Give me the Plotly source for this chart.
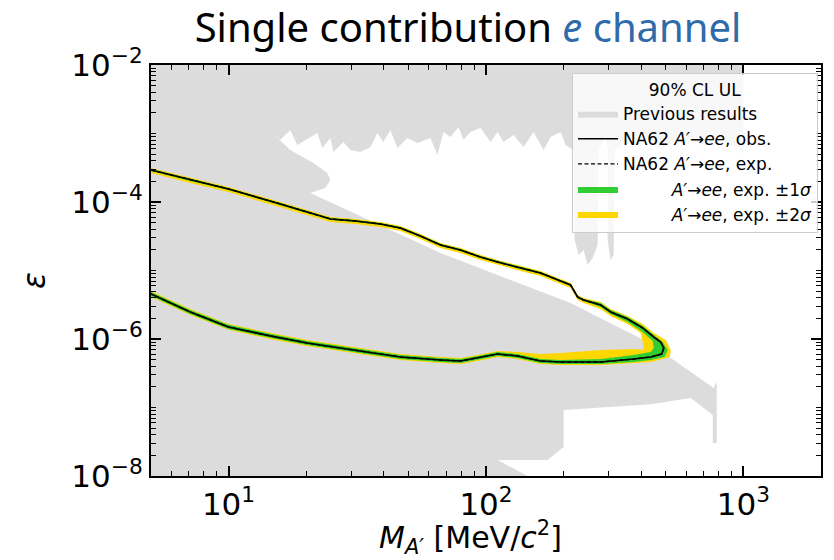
import math
import plotly.graph_objects as go

# ---------------- data ----------------
# Upper branch of the NA62 A'->ee exclusion contour
mass_up = [5.0, 7.1, 10.0, 15.9, 24.9, 31.1, 38.9, 46.5, 55.6, 66.6, 79.6, 95.2, 110.8,
           136.2, 162.9, 186.3, 203.8, 213.1, 226.9, 239.4, 278.7, 304.8, 354.9, 406.0, 448.1]
eps_up_obs = [2.93e-4, 2.10e-4, 1.55e-4, 9.35e-5, 5.65e-5, 5.28e-5, 4.77e-5, 4.17e-5, 3.19e-5,
              2.36e-5, 1.99e-5, 1.57e-5, 1.33e-5, 1.09e-5, 9.20e-6, 7.51e-6, 6.57e-6, 6.14e-6,
              4.10e-6, 3.71e-6, 3.14e-6, 2.48e-6, 1.96e-6, 1.45e-6, 1.07e-6]
eps_up_exp = [2.93e-4, 2.10e-4, 1.55e-4, 9.35e-5, 5.65e-5, 5.28e-5, 4.77e-5, 4.17e-5, 3.19e-5,
              2.36e-5, 1.99e-5, 1.57e-5, 1.33e-5, 1.09e-5, 9.20e-6, 7.51e-6, 6.57e-6, 6.14e-6,
              4.10e-6, 3.71e-6, 3.14e-6, 2.48e-6, 1.96e-6, 1.45e-6, 1.07e-6]

# Tip of the contour (high-mass end)
mass_tip = [477.0, 490.1, 481.2]
eps_tip_obs = [9.04e-7, 7.39e-7, 6.04e-7]
eps_tip_exp = [9.04e-7, 7.39e-7, 6.04e-7]

# Lower branch of the contour
mass_lo = [5.0, 7.1, 10.0, 14.5, 20.2, 27.2, 36.5, 46.5, 66.6, 79.6, 92.7, 110.8, 132.6,
           162.9, 194.9, 278.7, 374.6, 436.1]
eps_lo_obs = [4.54e-6, 2.48e-6, 1.50e-6, 1.11e-6, 8.74e-7, 7.39e-7, 6.25e-7, 5.46e-7, 4.94e-7,
              4.77e-7, 5.28e-7, 6.04e-7, 5.65e-7, 4.77e-7, 4.62e-7, 4.62e-7, 5.10e-7, 5.46e-7]
eps_lo_exp = [4.54e-6, 2.48e-6, 1.50e-6, 1.11e-6, 8.74e-7, 7.39e-7, 6.25e-7, 5.46e-7, 4.94e-7,
              4.77e-7, 5.28e-7, 6.04e-7, 5.65e-7, 4.77e-7, 4.62e-7, 4.62e-7, 5.10e-7, 5.46e-7]

# Expected +-1 sigma band edges
eps_up_1s_out = [3.03e-4, 2.17e-4, 1.60e-4, 9.67e-5, 5.84e-5, 5.46e-5, 4.93e-5, 4.31e-5, 3.30e-5,
                 2.44e-5, 2.06e-5, 1.62e-5, 1.38e-5, 1.13e-5, 9.51e-6, 7.77e-6, 6.79e-6, 6.35e-6,
                 4.24e-6, 3.84e-6, 3.36e-6, 2.65e-6, 2.10e-6, 1.55e-6, 1.14e-6]
mass_tip_1s_out = [485.7, 507.9, 494.0]
eps_tip_1s_out = [9.04e-7, 6.91e-7, 5.46e-7]
eps_lo_1s_out = [4.24e-6, 2.32e-6, 1.40e-6, 1.04e-6, 8.17e-7, 6.91e-7, 5.84e-7, 5.10e-7, 4.62e-7,
                 4.46e-7, 4.93e-7, 5.64e-7, 5.28e-7, 4.46e-7, 4.32e-7, 4.32e-7, 4.61e-7, 4.94e-7]
eps_up_1s_in = [2.83e-4, 2.03e-4, 1.50e-4, 9.04e-5, 5.46e-5, 5.11e-5, 4.61e-5, 4.03e-5, 3.09e-5,
                2.28e-5, 1.92e-5, 1.52e-5, 1.29e-5, 1.05e-5, 8.90e-6, 7.26e-6, 6.35e-6, 5.94e-6,
                3.97e-6, 3.59e-6, 2.93e-6, 2.32e-6, 1.77e-6, 1.27e-6]
mass_tip_1s_in = [444.0, 448.1]
eps_tip_1s_in = [9.35e-7, 7.39e-7]
eps_lo_1s_in = [4.86e-6, 2.65e-6, 1.61e-6, 1.19e-6, 9.35e-7, 7.91e-7, 6.69e-7, 5.84e-7, 5.29e-7,
                5.10e-7, 5.65e-7, 6.46e-7, 6.05e-7, 5.10e-7, 4.94e-7, 5.11e-7, 5.83e-7, 6.46e-7]

# Expected +-2 sigma band edges
eps_up_2s_out = [3.14e-4, 2.25e-4, 1.66e-4, 1.00e-4, 6.05e-5, 5.65e-5, 5.10e-5, 4.46e-5, 3.41e-5,
                 2.53e-5, 2.13e-5, 1.68e-5, 1.42e-5, 1.17e-5, 9.84e-6, 8.04e-6, 7.03e-6, 6.57e-6,
                 4.39e-6, 3.97e-6, 3.47e-6, 2.74e-6, 2.17e-6, 1.66e-6, 1.22e-6]
mass_tip_2s_out = [498.8, 521.8, 517.2]
eps_tip_2s_out = [9.67e-7, 6.91e-7, 5.46e-7]
eps_lo_2s_out = [4.10e-6, 2.24e-6, 1.36e-6, 1.00e-6, 7.90e-7, 6.68e-7, 5.65e-7, 4.94e-7, 4.47e-7,
                 4.31e-7, 4.77e-7, 5.46e-7, 5.11e-7, 4.31e-7, 4.18e-7, 4.18e-7, 4.46e-7, 4.62e-7]
eps_up_2s_in = [2.65e-4, 1.90e-4, 1.40e-4, 8.45e-5, 5.11e-5, 4.77e-5, 4.31e-5, 3.77e-5, 2.88e-5,
                2.13e-5, 1.80e-5, 1.42e-5, 1.20e-5, 9.86e-6, 8.32e-6, 6.79e-6, 5.94e-6, 5.55e-6,
                3.71e-6, 3.35e-6, 2.74e-6, 2.17e-6, 1.66e-6]
mass_tip_2s_in = [398.8, 406.0, 409.7]
eps_tip_2s_in = [1.22e-6, 9.04e-7, 6.91e-7]
eps_lo_2s_in = [5.02e-6, 2.74e-6, 1.66e-6, 1.23e-6, 9.67e-7, 8.17e-7, 6.91e-7, 6.04e-7, 5.46e-7,
                5.28e-7, 5.84e-7, 6.68e-7, 6.46e-7, 6.03e-7, 6.25e-7, 6.92e-7, 7.14e-7]

# Previously excluded region (outline, one closed polygon)
prev_mass = [4.5, 1000, 1000, 976.3, 816.1, 682.4, 570.5, 477.0, 398.9, 333.4, 316.0, 313.1,
             304.8, 296.8, 296.8, 291.5, 273.8, 271.4, 259.5, 248.1, 239.4, 228.9, 220.9, 218.9,
             203.8, 194.9, 178.2, 167.3, 153.0, 139.9, 127.9, 117.0, 110.9, 104.1, 95.2, 87.05,
             81.76, 78.18, 72.78, 68.35, 64.78, 60.84, 54.17, 49.52, 45.29, 42.54, 39.95, 37.86,
             35.56, 32.52, 29.74, 27.93, 25.54, 24.86, 23.14, 22.13, 19.52, 18.50, 17.38, 15.89,
             14.79, 17.38, 21.35, 24.20, 24.86, 23.77, 20.78, 66.6, 213.1, 409.7, 521.8, 766.3,
             787.3, 787.3, 759.7, 759.7, 624.0, 436.1, 200.2, 200.2, 173.4, 110.9, 155.1, 4.5]
prev_eps = [1.5e-2, 1.5e-2, 4.86e-4, 5.74e-4, 8.60e-4, 6.79e-4, 9.51e-4, 5.74e-4, 1.125e-3,
            6.79e-4, 5.74e-4, 1.68e-5, 1.42e-5, 2.79e-5, 5.74e-4, 9.51e-4, 5.74e-4, 2.36e-5,
            1.52e-5, 1.20e-5, 1.99e-5, 1.68e-5, 2.79e-5, 5.74e-4, 6.79e-4, 1.052e-3, 8.89e-4,
            5.74e-4, 1.052e-3, 6.35e-4, 9.51e-4, 7.51e-4, 1.052e-3, 7.51e-4, 1.203e-3, 1.052e-3,
            8.04e-4, 1.244e-3, 8.89e-4, 1.052e-3, 4.86e-4, 8.60e-4, 7.26e-4, 8.60e-4, 6.14e-4,
            1.125e-3, 7.51e-4, 1.017e-3, 6.35e-4, 5.37e-4, 5.74e-4, 7.51e-4, 5.37e-4, 8.60e-4,
            6.14e-4, 1.017e-3, 7.51e-4, 6.79e-4, 1.125e-3, 8.04e-4, 1.017e-3, 5.74e-4, 3.71e-4,
            2.65e-4, 2.10e-4, 1.60e-4, 1.35e-4, 1.80e-5, 3.35e-6, 9.66e-7, 5.28e-7, 1.93e-7,
            2.36e-7, 3.03e-8, 3.03e-8, 7.77e-8, 1.38e-7, 1.12e-7, 9.19e-8, 2.65e-8, 1.71e-8,
            1.71e-8, 8.75e-9, 8.75e-9]

# Axis ticks
x_range = [5, 2000]
y_range = [1e-8, 1e-2]
x_major = [10, 100, 1000]
x_major_text = ["10<sup>1</sup>", "10<sup>2</sup>", "10<sup>3</sup>"]
y_major = [1e-8, 1e-6, 1e-4, 1e-2]
y_major_text = ["10<sup>\u22128</sup>", "10<sup>\u22126</sup>", "10<sup>\u22124</sup>", "10<sup>\u22122</sup>"]
x_minor = [k * 10 ** n for n in range(0, 4) for k in range(2, 10) if 5 <= k * 10 ** n <= 2000]
y_minor = [k * 10.0 ** n for n in range(-8, -2) for k in range(1, 10)
           if (k, n) not in [(1, -8), (1, -6), (1, -4)]]

# Labels
title_text = "Single contribution <span style='color:#2f6aab'><i>e</i> channel</span>"
legend_title = "90% CL UL"
name_prev = "Previous results"
name_obs = "NA62 <i>A\u2032</i>\u2192<i>ee</i>, obs."
name_exp = "NA62 <i>A\u2032</i>\u2192<i>ee</i>, exp."
name_1s = "\u00a0" * 9 + "<i>A\u2032</i>\u2192<i>ee</i>, exp. \u00b11<i>\u03c3</i>"
name_2s = "\u00a0" * 9 + "<i>A\u2032</i>\u2192<i>ee</i>, exp. \u00b12<i>\u03c3</i>"
x_label = "<i>M</i><sub><i>A\u2032</i></sub> [MeV/<i>c</i><sup>2</sup>]"
y_label = "<i>\u03b5</i>"

# Colours
c_prev = "#dcdcdc"
c_1s = "#32cd32"
c_2s = "#ffd700"


# ---------------- helpers ----------------
def loop(m_up, e_up, m_tip, e_tip, m_lo, e_lo):
    n_up, n_lo = len(e_up), len(e_lo)
    ms = list(m_up[:n_up]) + list(m_tip) + list(m_lo[:n_lo])[::-1]
    es = list(e_up) + list(e_tip) + list(e_lo)[::-1]
    return ms, es


def annulus(outer, inner):
    return outer[0] + inner[0][::-1], outer[1] + inner[1][::-1]


obs_loop = loop(mass_up, eps_up_obs, mass_tip, eps_tip_obs, mass_lo, eps_lo_obs)
exp_loop = loop(mass_up, eps_up_exp, mass_tip, eps_tip_exp, mass_lo, eps_lo_exp)
band1 = annulus(loop(mass_up, eps_up_1s_out, mass_tip_1s_out, eps_tip_1s_out, mass_lo, eps_lo_1s_out),
                loop(mass_up, eps_up_1s_in, mass_tip_1s_in, eps_tip_1s_in, mass_lo, eps_lo_1s_in))
band2 = annulus(loop(mass_up, eps_up_2s_out, mass_tip_2s_out, eps_tip_2s_out, mass_lo, eps_lo_2s_out),
                loop(mass_up, eps_up_2s_in, mass_tip_2s_in, eps_tip_2s_in, mass_lo, eps_lo_2s_in))

fig = go.Figure()
fig.add_trace(go.Scatter(x=prev_mass, y=prev_eps, fill="toself", fillcolor=c_prev, mode="lines",
                         line=dict(width=0, color=c_prev), name=name_prev, legendrank=1,
                         legendgroup="a", hoverinfo="skip"))
fig.add_trace(go.Scatter(x=band2[0], y=band2[1], fill="toself", fillcolor=c_2s, mode="lines",
                         line=dict(width=0, color=c_2s), name=name_2s, legendrank=5,
                         legendgroup="e", hoverinfo="skip"))
fig.add_trace(go.Scatter(x=band1[0], y=band1[1], fill="toself", fillcolor=c_1s, mode="lines",
                         line=dict(width=0, color=c_1s), name=name_1s, legendrank=4,
                         legendgroup="d", hoverinfo="skip"))
fig.add_trace(go.Scatter(x=exp_loop[0], y=exp_loop[1], mode="lines",
                         line=dict(width=1.4, color="black", dash="4px,2.5px"), name=name_exp,
                         legendrank=3, legendgroup="c", hoverinfo="skip"))
fig.add_trace(go.Scatter(x=obs_loop[0], y=obs_loop[1], mode="lines",
                         line=dict(width=1.6, color="black"), name=name_obs,
                         legendrank=2, legendgroup="b", hoverinfo="skip"))

L, R, T, B = 151, 13, 65, 84
W, H = 834, 560
pw, ph = W - L - R, H - T - B

axis_common = dict(
    type="log", showgrid=False, zeroline=False, showline=True, linecolor="black", linewidth=2,
    mirror="allticks", ticks="inside", ticklen=10, tickwidth=1.5, tickcolor="black",
    tickfont=dict(family="DejaVu Sans", size=31, color="black"),
)

fig.update_layout(
    width=W, height=H,
    margin=dict(l=L, r=R, t=T, b=B),
    paper_bgcolor="white", plot_bgcolor="white",
    title=dict(text=title_text, x=468 / W, xanchor="center", y=1 - 28 / H, yanchor="middle",
               font=dict(family="Noto Sans", size=40, color="black")),
    xaxis=dict(range=[math.log10(x_range[0]), math.log10(x_range[1])], tickmode="array",
               tickvals=x_major, ticktext=x_major_text,
               minor=dict(tickmode="array", tickvals=x_minor, ticks="inside", ticklen=5,
                          tickwidth=1.2, tickcolor="black", showgrid=False),
               **axis_common),
    yaxis=dict(range=[math.log10(y_range[0]), math.log10(y_range[1])], tickmode="array",
               tickvals=y_major, ticktext=y_major_text,
               minor=dict(tickmode="array", tickvals=y_minor, ticks="inside", ticklen=5,
                          tickwidth=1.2, tickcolor="black", showgrid=False),
               **axis_common),
    showlegend=True,
    legend=dict(
        x=(818 - L) / pw, xanchor="right", y=(H - B - 73) / ph, yanchor="top",
        bgcolor="rgba(255,255,255,0.8)", bordercolor="#cccccc", borderwidth=1,
        font=dict(family="DejaVu Sans", size=17, color="black"),
        title=dict(text=legend_title, side="top center",
                   font=dict(family="DejaVu Sans", size=17, color="black")),
        traceorder="grouped", tracegroupgap=0, itemwidth=40,
    ),
    annotations=[
        dict(text=x_label, xref="paper", yref="paper", x=(470 - L) / pw, y=-(537 - (H - B)) / ph,
             xanchor="center", yanchor="middle", showarrow=False,
             font=dict(family="DejaVu Sans", size=30, color="black")),
        dict(text=y_label, xref="paper", yref="paper", x=-(L - 34) / pw, y=(H - B - 281) / ph,
             xanchor="center", yanchor="middle", showarrow=False, textangle=-90,
             font=dict(family="DejaVu Sans", size=31, color="black")),
    ],
)

fig.write_html("out.html")
